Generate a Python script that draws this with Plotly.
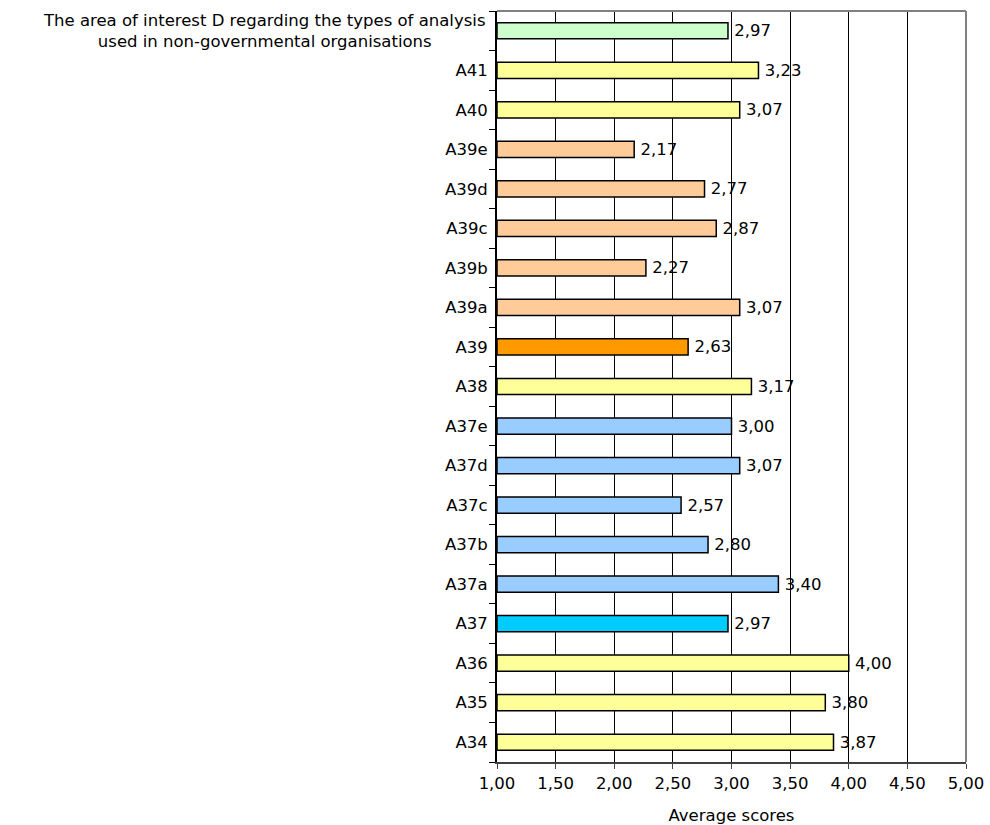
import plotly.graph_objects as go

# Items from bottom to top of the chart
categories = ["A34", "A35", "A36", "A37", "A37a", "A37b", "A37c", "A37d", "A37e",
              "A38", "A39", "A39a", "A39b", "A39c", "A39d", "A39e", "A40", "A41", "D"]
scores = [3.87, 3.80, 4.00, 2.97, 3.40, 2.80, 2.57, 3.07, 3.00,
          3.17, 2.63, 3.07, 2.27, 2.87, 2.77, 2.17, 3.07, 3.23, 2.97]
colors = ["#FFFF99", "#FFFF99", "#FFFF99", "#00CCFF", "#99CCFF", "#99CCFF", "#99CCFF",
          "#99CCFF", "#99CCFF", "#FFFF99", "#FF9900", "#FFCC99", "#FFCC99", "#FFCC99",
          "#FFCC99", "#FFCC99", "#FFFF99", "#FFFF99", "#CCFFCC"]
tick_labels = categories[:-1] + [""]
summary_label = ("The area of interest D regarding the types of analysis<br>"
                 "used in non-governmental organisations")
x_ticks = [1.0, 1.5, 2.0, 2.5, 3.0, 3.5, 4.0, 4.5, 5.0]
axis_start = 1.0

font = dict(family="DejaVu Sans, Arial, sans-serif", size=16.5, color="black")

fig = go.Figure()
fig.add_trace(go.Bar(
    y=categories,
    x=[s - axis_start for s in scores],
    base=axis_start,
    orientation="h",
    width=0.41,
    marker=dict(color=colors, line=dict(color="black", width=1.5)),
    customdata=scores,
    texttemplate="\u2009%{customdata:.2f}",
    textposition="outside",
    constraintext="none",
    textfont=font,
    cliponaxis=False,
    hoverinfo="skip",
))

fig.add_annotation(
    text=summary_label, xref="paper", yref="y", x=0, y="D",
    xanchor="right", yanchor="middle", xshift=-10, align="center",
    showarrow=False, font=font,
)

fig.update_layout(
    width=990, height=825,
    margin=dict(l=497, r=24, t=11, b=63),
    paper_bgcolor="white", plot_bgcolor="white",
    separators=", ",
    showlegend=False,
    font=font,
    xaxis=dict(
        range=[1, 5], tickvals=x_ticks, tickformat=".2f",
        showgrid=True, gridcolor="black", gridwidth=1,
        showline=True, linecolor="#404040", linewidth=2, mirror=False,
        ticks="outside", ticklen=5, tickcolor="#404040", tickwidth=1,
        zeroline=False, tickfont=font, automargin=False,
        title=dict(text="Average scores", font=font, standoff=22),
    ),
    yaxis=dict(
        type="category", categoryorder="array", categoryarray=categories,
        tickvals=categories, ticktext=tick_labels, tickson="boundaries",
        showgrid=False, showline=True, linecolor="black", linewidth=2,
        ticks="outside", ticklen=6, tickcolor="black", tickwidth=1,
        ticklabelstandoff=4, automargin=False,
        tickfont=font, range=[-0.5, len(categories) - 0.5],
    ),
    shapes=[
        dict(type="line", xref="paper", yref="paper", x0=0, x1=1, y0=1, y1=1,
             line=dict(color="#808080", width=2)),
        dict(type="line", xref="paper", yref="paper", x0=1, x1=1, y0=0, y1=1,
             line=dict(color="#808080", width=2)),
    ],
)

fig.write_html("out.html")
